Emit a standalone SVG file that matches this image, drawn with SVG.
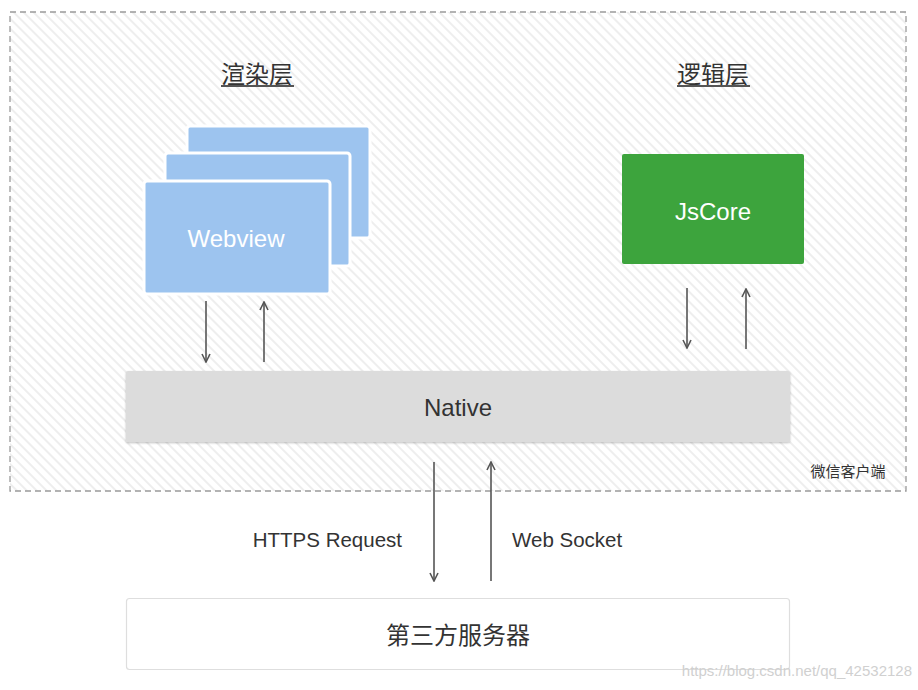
<svg xmlns="http://www.w3.org/2000/svg" width="918" height="690" viewBox="0 0 918 690">
<defs>
<pattern id="hatch" width="7" height="7" patternUnits="userSpaceOnUse" patternTransform="rotate(-45)">
<rect width="7" height="7" fill="#ffffff"/>
<line x1="1" y1="0" x2="1" y2="7" stroke="#e4e4e4" stroke-width="1.2"/>
</pattern>
<marker id="arr" viewBox="0 0 10 10" refX="9" refY="5" markerWidth="10" markerHeight="10" markerUnits="userSpaceOnUse" orient="auto">
<path d="M1,1 L9,5 L1,9" fill="none" stroke="#555" stroke-width="1.6"/>
</marker>
<filter id="sh" x="-5%" y="-20%" width="110%" height="140%">
<feGaussianBlur in="SourceAlpha" stdDeviation="1.2"/>
<feOffset dy="1" result="b"/>
<feComponentTransfer><feFuncA type="linear" slope="0.25"/></feComponentTransfer>
<feMerge><feMergeNode/><feMergeNode in="SourceGraphic"/></feMerge>
</filter>
</defs>
<style>
.t{font-family:"Liberation Sans","Noto Sans CJK SC",sans-serif;fill:#333}
.cjk{font-family:"Noto Sans CJK SC","Liberation Sans",sans-serif;fill:#333}
.w{fill:#ffffff}
.card{fill:#9dc4ef;stroke:#ffffff;stroke-width:3}
.conn{stroke:#555;stroke-width:1.6;fill:none;marker-end:url(#arr)}
</style>
<rect width="918" height="690" fill="#ffffff"/>
<g id="client">
<rect x="10" y="12" width="896" height="479" fill="url(#hatch)" stroke="#9a9a9a" stroke-width="1.3" stroke-dasharray="6,4"/>
<text class="cjk" x="848" y="477" font-size="15" text-anchor="middle" fill="#333">微信客户端</text>
</g>
<g id="title-render">
<text class="cjk" x="257" y="83" font-size="24" text-anchor="middle" fill="#222">渲染层</text>
<line x1="221" y1="86" x2="294" y2="86" stroke="#555" stroke-width="2"/>
</g>
<g id="title-logic">
<text class="cjk" x="713" y="83" font-size="24" text-anchor="middle" fill="#222">逻辑层</text>
<line x1="677" y1="86" x2="750" y2="86" stroke="#555" stroke-width="2"/>
</g>
<g id="webview">
<rect class="card" x="187" y="126" width="183" height="112" rx="3"/>
<rect class="card" x="165" y="153" width="185" height="113" rx="3"/>
<rect class="card" x="144" y="181" width="186" height="113" rx="3"/>
<text class="t w" x="236" y="247" font-size="24" text-anchor="middle">Webview</text>
</g>
<g id="jscore">
<rect x="622" y="154" width="182" height="110" rx="2" fill="#3da43d"/>
<text class="t w" x="713" y="220" font-size="24" text-anchor="middle">JsCore</text>
</g>
<g id="native">
<rect x="126" y="371" width="664" height="71" rx="2" fill="#dcdcdc" filter="url(#sh)"/>
<text class="t" x="458" y="416" font-size="24" text-anchor="middle" fill="#3a3a3a">Native</text>
</g>
<g id="server">
<rect x="126.5" y="598.5" width="663" height="71" rx="3" fill="#ffffff" stroke="#dedede" stroke-width="1.2"/>
<text class="cjk" x="458" y="644" font-size="24" text-anchor="middle" fill="#222">第三方服务器</text>
</g>
<g id="connectors">
<line class="conn" x1="206" y1="301" x2="206" y2="362"/>
<line class="conn" x1="264" y1="362" x2="264" y2="302"/>
<line class="conn" x1="687" y1="288" x2="687" y2="348"/>
<line class="conn" x1="746" y1="349" x2="746" y2="289"/>
<line class="conn" x1="434" y1="462" x2="434" y2="581"/>
<line class="conn" x1="491" y1="581" x2="491" y2="462"/>
<text class="t" x="402" y="547" font-size="20.5" text-anchor="end" fill="#222">HTTPS Request</text>
<text class="t" x="512" y="547" font-size="20.5" fill="#222">Web Socket</text>
</g>
<text x="912" y="676" font-family="Liberation Sans,sans-serif" font-size="15" text-anchor="end" fill="#d0d0d0">https://blog.csdn.net/qq_42532128</text>
</svg>
